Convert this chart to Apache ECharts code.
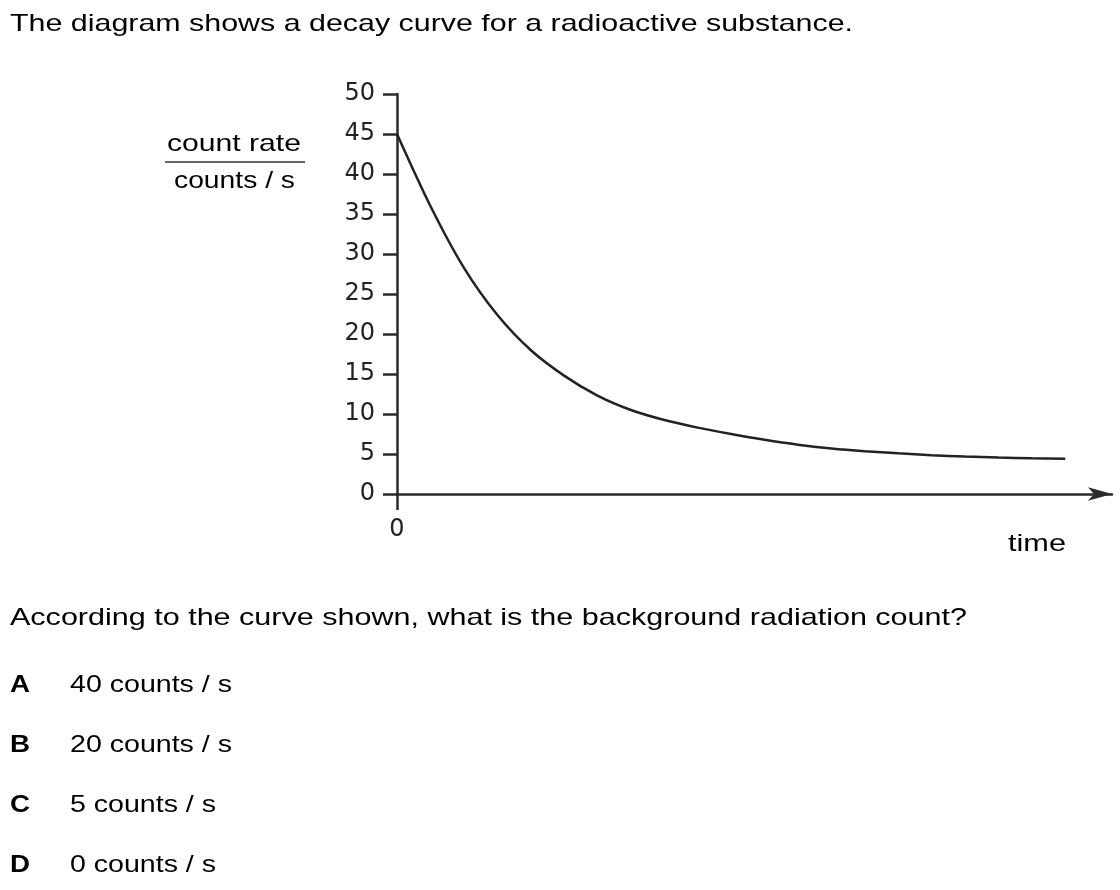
<!DOCTYPE html>
<html>
<head>
<meta charset="utf-8">
<script src="https://cdn.jsdelivr.net/npm/echarts@6/dist/echarts.min.js"></script>
<style>
  html, body { margin: 0; padding: 0; background: #fff; }
  #chart { width: 1120px; height: 890px; }
</style>
</head>
<body>
<div id="chart"></div>
<script>
// ---- data ----
const timeValues = [0, 5, 10, 15, 20, 25, 30, 35, 40, 45, 50, 55, 60, 65, 70, 75, 80, 85, 90, 95, 100];
const countRates = [45, 36, 28.3, 22.4, 18, 14.8, 12.3, 10.5, 9.25, 8.3, 7.5, 6.78, 6.17, 5.7, 5.35, 5.08, 4.85, 4.68, 4.55, 4.46, 4.4];
const yMin = 0, yMax = 50, yStep = 5;
const xMin = 0, xMax = 107;
const xTickValues = [0];

const titleText = 'The diagram shows a decay curve for a radioactive substance.';
const yNameTop = 'count rate';
const yNameBottom = 'counts / s';
const xName = 'time';
const questionText = 'According to the curve shown, what is the background radiation count?';
const optionLetters = ['A', 'B', 'C', 'D'];
const optionTexts = ['40 counts / s', '20 counts / s', '5 counts / s', '0 counts / s'];

// ---- helpers ----
const FONT = 'Liberation Sans';
const ctx = document.createElement('canvas').getContext('2d');
function measure(str, size, weight) {
  ctx.font = (weight || 'normal') + ' ' + size + 'px "' + FONT + '"';
  return ctx.measureText(str).width;
}
function stretchText(str, left, cy, targetW, size, weight) {
  const w = measure(str, size, weight);
  return {
    type: 'text', x: left, y: cy, scaleX: targetW / w, silent: true,
    style: {
      text: str, x: 0, y: 0, fill: '#000',
      fontFamily: FONT, fontSize: size, fontWeight: weight || 'normal',
      textAlign: 'left', textVerticalAlign: 'middle'
    }
  };
}

const optionWidths = [162, 162, 146, 146];
const graphics = [
  stretchText(titleText, 10, 24, 843, 24),
  stretchText(yNameTop, 167, 144, 134, 24),
  stretchText(yNameBottom, 174, 181, 121, 24),
  { type: 'line', silent: true, shape: { x1: 165, y1: 162, x2: 305, y2: 162 },
    style: { stroke: '#333', lineWidth: 1.5 } },
  stretchText(xName, 1008, 544, 58, 24),
  stretchText(questionText, 10, 618, 957, 24)
];
optionLetters.forEach((l, i) => {
  const cy = 685 + i * 60;
  graphics.push(stretchText(l, 10, cy, 20, 24, 'bold'));
  graphics.push(stretchText(optionTexts[i], 70, cy, optionWidths[i], 24));
});

const axisColor = '#2a2a2a';
const chart = echarts.init(document.getElementById('chart'), null, { renderer: 'canvas' });
chart.setOption({
  animation: false,
  backgroundColor: '#fff',
  grid: { left: 397, top: 94, right: 8, bottom: 396, containLabel: false },
  xAxis: {
    type: 'value', min: xMin, max: xMax,
    splitLine: { show: false },
    axisLine: {
      show: true, onZero: true,
      symbol: ['none', 'arrow'], symbolSize: [10, 24],
      lineStyle: { color: axisColor, width: 2.5 }
    },
    axisTick: { show: true, inside: false, length: 16, customValues: xTickValues,
      lineStyle: { color: axisColor, width: 2.5 } },
    axisLabel: { show: true, customValues: xTickValues, margin: 24,
      fontFamily: 'DejaVu Sans', fontSize: 24, color: '#222',
      formatter: v => String(v) }
  },
  yAxis: {
    type: 'value', min: yMin, max: yMax, interval: yStep,
    splitLine: { show: false },
    axisLine: { show: true, onZero: false, lineStyle: { color: axisColor, width: 2.5 } },
    axisTick: { show: true, inside: false, length: 14, lineStyle: { color: axisColor, width: 2.5 } },
    axisLabel: { show: true, margin: 22, fontFamily: 'DejaVu Sans', fontSize: 24, color: '#222' }
  },
  series: [{
    type: 'line',
    data: timeValues.map((t, i) => [t, countRates[i]]),
    smooth: 0.3,
    showSymbol: false,
    symbol: 'none',
    lineStyle: { color: '#222', width: 2.5 },
    silent: true
  }],
  graphic: graphics
});
</script>
</body>
</html>
